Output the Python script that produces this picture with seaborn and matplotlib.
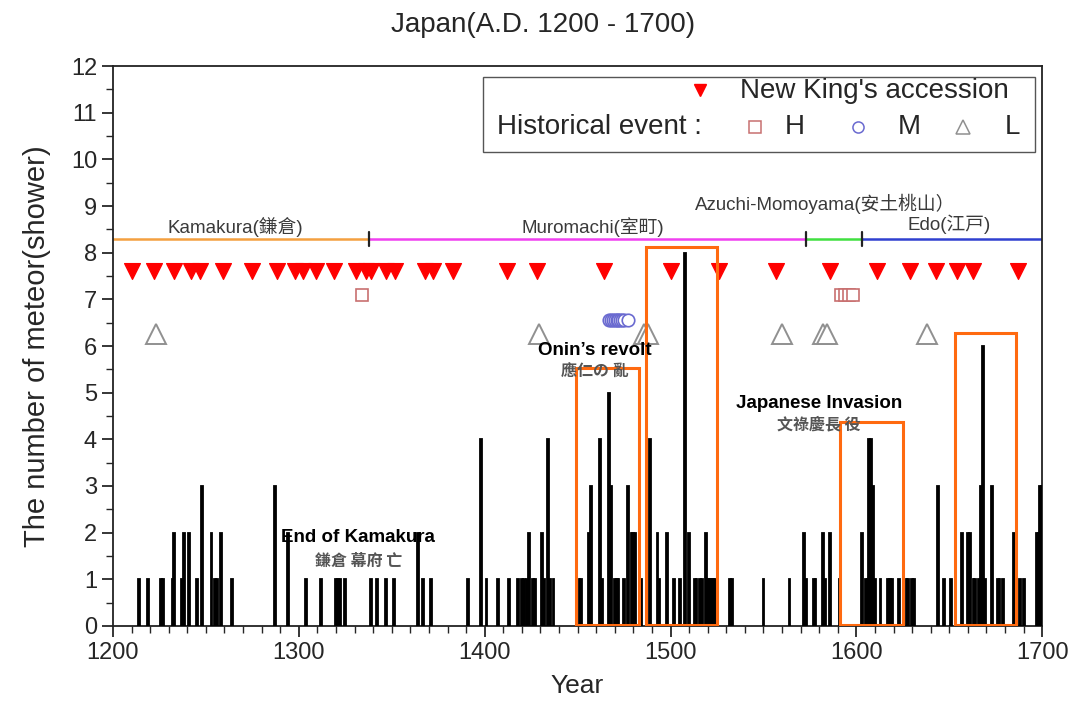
import matplotlib
matplotlib.use("Agg")
import matplotlib.pyplot as plt
import seaborn as sns
import pandas as pd
from matplotlib.patches import Rectangle
from matplotlib.ticker import MultipleLocator

# meteor shower counts per year
years = [1214, 1219, 1226, 1227, 1232, 1233, 1237, 1238, 1241, 1245, 1248, 1253, 1255, 1256,
         1258, 1264, 1287, 1294, 1304, 1312, 1320, 1321, 1322, 1325, 1339, 1342, 1347, 1351,
         1364, 1367, 1371, 1391, 1398, 1401, 1407, 1413, 1418, 1420, 1421, 1423, 1424, 1426,
         1427, 1431, 1432, 1434, 1435, 1437, 1451, 1452, 1456, 1457, 1462, 1463, 1467, 1468,
         1470, 1471, 1472, 1475, 1477, 1479, 1480, 1481, 1484, 1489, 1493, 1494, 1498, 1502,
         1505, 1508, 1510, 1513, 1514, 1516, 1517, 1519, 1520, 1521, 1522, 1523, 1524, 1532,
         1533, 1550, 1564, 1572, 1573, 1577, 1578, 1582, 1583, 1586, 1591, 1603, 1605, 1606,
         1607, 1608, 1609, 1610, 1613, 1617, 1618, 1619, 1623, 1627, 1628, 1630, 1631, 1644,
         1647, 1651, 1657, 1660, 1661, 1663, 1664, 1666, 1667, 1668, 1669, 1673, 1676, 1677,
         1679, 1685, 1688, 1690, 1697, 1698, 1699, 1700]
counts = [1, 1, 1, 1, 1, 2, 1, 2, 2, 1, 3, 2, 1, 1,
          2, 1, 3, 2, 1, 1, 1, 1, 1, 1, 1, 1, 1, 1,
          2, 1, 1, 1, 4, 1, 1, 1, 1, 1, 1, 1, 2, 1,
          1, 2, 1, 4, 1, 1, 1, 1, 2, 3, 4, 1, 5, 3,
          1, 1, 1, 1, 3, 2, 2, 2, 1, 4, 2, 1, 2, 1,
          1, 8, 2, 1, 1, 1, 1, 2, 1, 1, 1, 1, 1, 1,
          1, 1, 1, 2, 1, 1, 1, 2, 1, 2, 1, 2, 1, 1,
          4, 4, 3, 1, 1, 1, 1, 1, 1, 1, 1, 1, 1, 3,
          1, 1, 2, 2, 2, 1, 1, 1, 3, 6, 1, 3, 1, 1,
          1, 2, 1, 1, 2, 2, 3, 3]

# new king's accession
king_years = [1210, 1222, 1233, 1242, 1247, 1259, 1275, 1288, 1298, 1302, 1309, 1319,
              1331, 1336, 1339, 1347, 1352, 1368, 1372, 1383, 1412, 1428, 1464, 1500,
              1526, 1557, 1586, 1611, 1629, 1643, 1654, 1663, 1687]
king_level = 7.6

# historical events H / M / L
h_years = [1334, 1592, 1594, 1596, 1598]
h_level = 7.1
m_years = [1467, 1468, 1469, 1470, 1471, 1472, 1473, 1474, 1475, 1477]
m_level = 6.55
l_years = [1223, 1429, 1486, 1488, 1560, 1582, 1584, 1638]
l_level = 6.25

# eras
era_names = ["Kamakura(鎌倉)", "Muromachi(室町)", "Azuchi-Momoyama(安土桃山）", "Edo(江戸)"]
era_start = [1200, 1338, 1573, 1603]
era_end = [1338, 1573, 1603, 1700]
era_colors = ["#f4a040", "#f040f0", "#40e040", "#3040d0"]
era_label_x = [1266, 1458, 1583, 1650]
era_label_y = [8.55, 8.55, 9.05, 8.6]
era_level = 8.3

# highlighted periods
box_x0 = [1449, 1487, 1591, 1653]
box_x1 = [1483, 1525, 1625, 1686]
box_top = [5.53, 8.12, 4.38, 6.27]

event_en = ["End of Kamakura", "Onin’s revolt", "Japanese Invasion"]
event_jp = ["鎌倉 幕府 亡", "應仁の 亂", "文祿慶長 役"]
event_x = [1332, 1459, 1580]
event_en_y = [1.9, 5.9, 4.77]
event_jp_y = [1.4, 5.45, 4.33]

sns.set_style("ticks")
plt.rcParams['font.family'] = ['Liberation Sans', 'Noto Sans CJK TC', 'DejaVu Sans']

fig = plt.figure(figsize=(10.73, 7.07), dpi=100)
ax = fig.add_axes([0.1053, 0.1146, 0.8660, 0.7920])

df = pd.DataFrame({'Year': years, 'Count': counts})
ax.bar(df['Year'], df['Count'], width=1.0, color='black', edgecolor='black', linewidth=1.3, zorder=3)

sns.scatterplot(x=king_years, y=[king_level] * len(king_years), marker='v', s=130,
                color='#ff0000', edgecolor='#ff0000', ax=ax, zorder=4)
ax.plot(h_years, [h_level] * len(h_years), 's', ms=9, mfc='white', mec='#c87070', mew=1.2, zorder=4)
ax.plot(m_years, [m_level] * len(m_years), 'o', ms=9, mfc='white', mec='#6a6ad0', mew=1.2, zorder=4)
ax.plot(l_years, [l_level] * len(l_years), '^', ms=14, mfc='white', mec='#909090', mew=1.4, zorder=4)

# era lines
for i in range(len(era_names)):
    ax.plot([era_start[i], era_end[i]], [era_level, era_level], color=era_colors[i], lw=1.8, zorder=2)
    ax.text(era_label_x[i], era_label_y[i], era_names[i], ha='center', va='center',
            fontsize=13.5, color='#3a3a3a')
for xb in era_start[1:]:
    ax.plot([xb, xb], [era_level - 0.15, era_level + 0.15], color='#222222', lw=1.6, zorder=3)

# boxes
for i in range(len(box_x0)):
    ax.add_patch(Rectangle((box_x0[i], 0.02), box_x1[i] - box_x0[i], box_top[i] - 0.02,
                           fill=False, edgecolor='#ff6a10', lw=2.2, zorder=5))

# event annotations
for i in range(len(event_en)):
    ax.text(event_x[i], event_en_y[i], event_en[i], ha='center', va='center', fontsize=13.5,
            fontweight='bold', color='black', zorder=6)
    ax.text(event_x[i], event_jp_y[i], event_jp[i], ha='center', va='center', fontsize=11.5,
            fontweight='bold', family=['Noto Sans CJK TC', 'DejaVu Sans'], color='#555555', zorder=6)

# legend box
ax.add_patch(Rectangle((0.398, 0.846), 0.5945, 0.134, transform=ax.transAxes, fill=True,
                       facecolor='white', edgecolor='#555555', lw=1.0, zorder=7))
ax.plot([0.632], [0.957], 'v', ms=9, color='#ff0000', transform=ax.transAxes, zorder=8)
ax.text(0.675, 0.955, "New King's accession", transform=ax.transAxes, ha='left', va='center',
        fontsize=20, zorder=8)
ax.text(0.413, 0.891, "Historical event :", transform=ax.transAxes, ha='left', va='center',
        fontsize=20, zorder=8)
ax.plot([0.691], [0.891], 's', ms=8, mfc='white', mec='#c87070', mew=1.1, transform=ax.transAxes, zorder=8)
ax.text(0.734, 0.891, "H", transform=ax.transAxes, ha='center', va='center', fontsize=20, zorder=8)
ax.plot([0.802], [0.891], 'o', ms=8, mfc='white', mec='#6a6ad0', mew=1.1, transform=ax.transAxes, zorder=8)
ax.text(0.857, 0.891, "M", transform=ax.transAxes, ha='center', va='center', fontsize=20, zorder=8)
ax.plot([0.915], [0.891], '^', ms=10, mfc='white', mec='#909090', mew=1.1, transform=ax.transAxes, zorder=8)
ax.text(0.968, 0.891, "L", transform=ax.transAxes, ha='center', va='center', fontsize=20, zorder=8)

ax.set_xlim(1200, 1700)
ax.set_ylim(0, 12)
ax.xaxis.set_major_locator(MultipleLocator(100))
ax.xaxis.set_minor_locator(MultipleLocator(10))
ax.yaxis.set_major_locator(MultipleLocator(1))
ax.yaxis.set_minor_locator(MultipleLocator(0.5))
ax.tick_params(axis='both', which='major', direction='out', length=8, width=1.3, labelsize=17,
               top=False, right=False)
ax.tick_params(axis='both', which='minor', direction='out', length=5, width=1.0,
               top=False, right=False)
for s in ax.spines.values():
    s.set_linewidth(1.3)
    s.set_color('#222222')

ax.set_xlabel("Year", fontsize=19, labelpad=7)
ax.set_ylabel("The number of meteor(shower)", fontsize=21, labelpad=14)
fig.text(0.506, 0.965, "Japan(A.D. 1200 - 1700)", ha='center', va='center', fontsize=20)

fig.savefig("out.png", dpi=100)
